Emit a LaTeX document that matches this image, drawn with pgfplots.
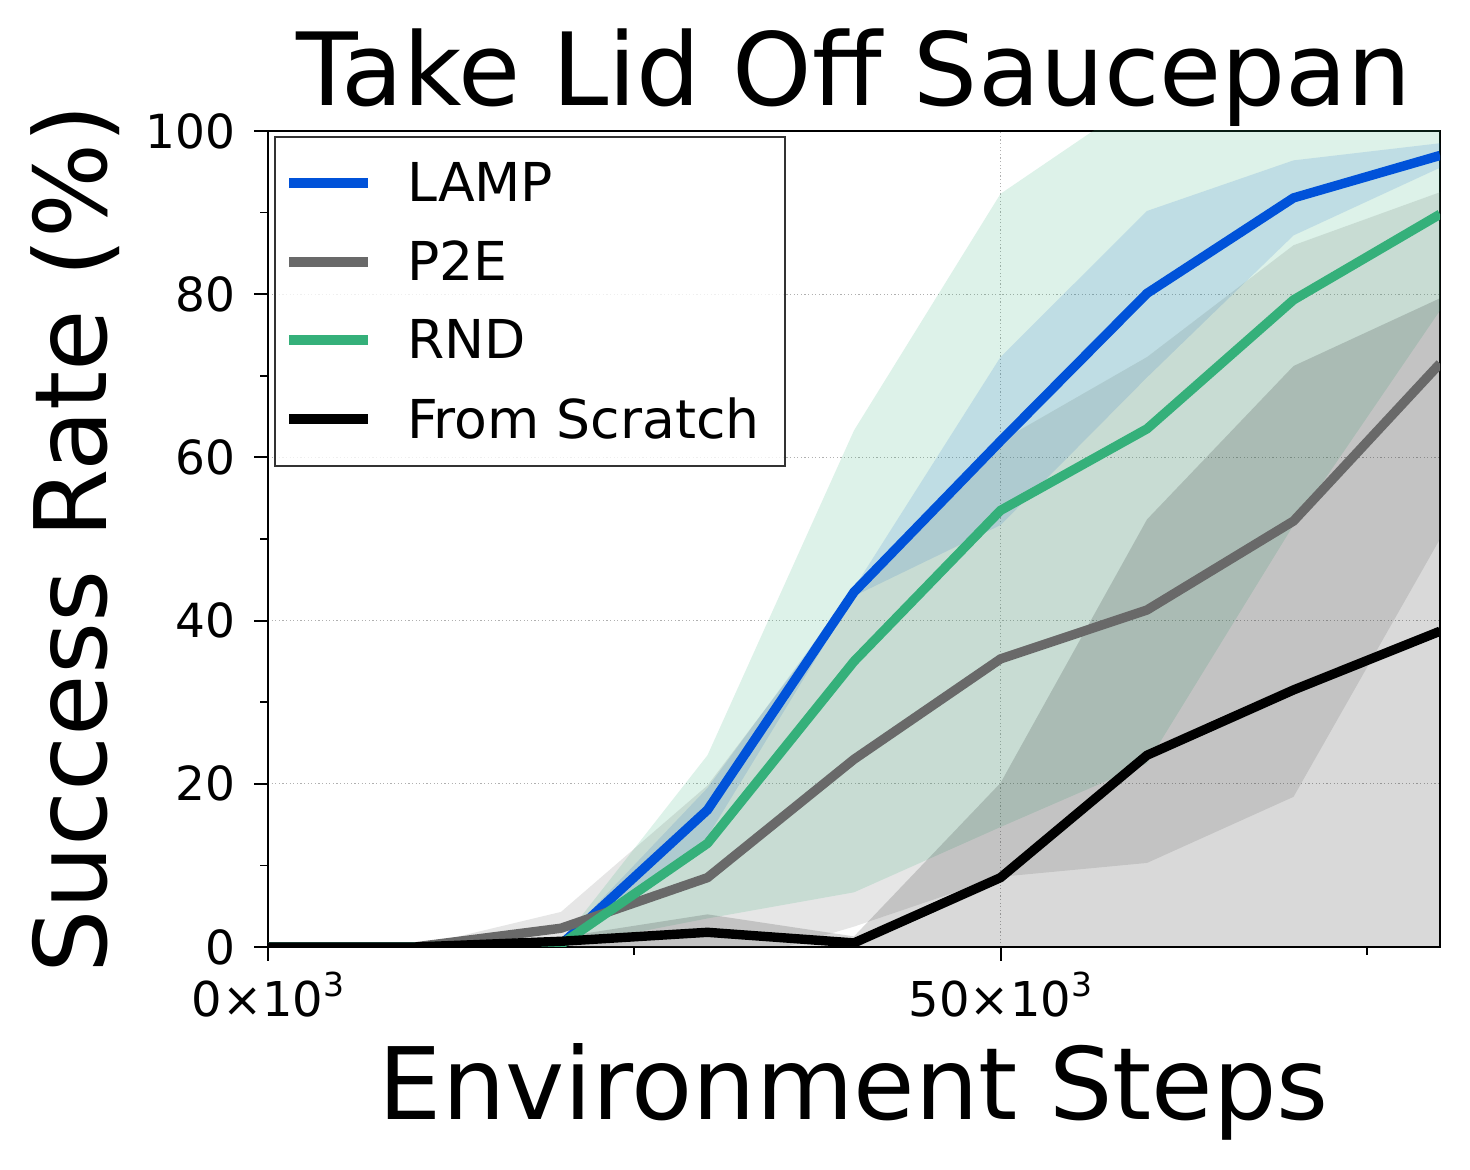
\documentclass[border=0pt]{standalone}
\usepackage{fontspec}
\setmainfont{DejaVu Sans}
\usepackage{pgfplots}
\usepackage{pgfplotstable}
\pgfplotsset{compat=1.18}
\usepgfplotslibrary{fillbetween}
\definecolor{lampc}{RGB}{0,82,217}
\definecolor{p2ec}{RGB}{105,105,105}
\definecolor{rndc}{RGB}{53,176,122}
\definecolor{gridc}{RGB}{176,176,176}
\newcommand\supr[1]{\raisebox{10pt}{\fontsize{16.5}{16.5}\selectfont #1}}
\newcommand\ls{\rule[-5pt]{0pt}{25pt}}

\pgfplotstableread{
x m lo hi
0 0 0 0
10 0 0 0
20 0.3 0 0.6
30 16.8 13.5 19.5
40 43.5 43 44
50 62 51.7 72.3
60 80.1 69.8 90.2
70 91.8 87.2 96.4
80 97 95.5 98.5
}\lamp
\pgfplotstableread{
x m lo hi
0 0 0 0
10 0 0 0
20 2.3 0.3 4.3
30 8.5 -2.8 19.8
40 23 2.5 43.5
50 35.3 8.6 62
60 41.3 10.3 72.3
70 52.2 18.4 86
80 71.5 50 92.5
}\ptwoe
\pgfplotstableread{
x m lo hi
0 0 0 0
10 0 0 0
20 0.3 0 0.6
30 12.7 3.5 23.5
40 35 6.7 63.3
50 53.5 14.7 92.3
60 63.5 22.5 104.5
70 79.3 51.7 107
80 89.8 78 101.6
}\rnd
\pgfplotstableread{
x m lo hi
0 0 0 0
10 0 0 0
20 0.7 0.2 1.2
30 1.8 -0.4 4
40 0.5 -0.3 1.3
50 8.5 -3.1 20.1
60 23.5 -5.4 52.4
70 31.5 -8.2 71.2
80 38.7 -2 79.5
}\scratch

\begin{document}
\begin{tikzpicture}
\begin{axis}[
  set layers=standard,
  clip mode=individual,
  width=586pt, height=408pt, scale only axis,
  xmin=0, xmax=80, ymin=0, ymax=100,
  axis line style={line width=1pt, black},
  xtick={0,50}, xticklabels={{0×10\supr{3}},{50×10\supr{3}}},
  minor xtick={25,75},
  ytick={0,20,40,60,80,100},
  minor ytick={10,30,50,70,90},
  tick align=outside, tick pos=left,
  major tick length=7pt, minor tick length=4pt,
  every tick/.style={black, line width=1pt},
  minor tick style={line width=0.8pt},
  grid=major,
  major grid style={gridc, line width=0.5pt, dash pattern=on 0.6pt off 1.2pt},
  /pgf/number format/assume math mode=true,
  yticklabel style={font=\fontsize{23.5}{28}\selectfont, anchor=east, inner sep=0pt, xshift=-9pt},
  xticklabel style={font=\fontsize{24}{28}\selectfont, anchor=north, inner sep=0pt, yshift=-5.5pt},
  legend style={at={(0,1)}, anchor=north west, xshift=3pt, yshift=-2.5pt,
    draw=black!80, line width=1pt, fill=white, fill opacity=0.8, text opacity=1,
    font=\fontsize{26.8}{32}\selectfont, inner xsep=4.5pt, inner ysep=12.5pt,
    row sep=17.75pt, column sep=17pt, nodes={inner sep=0pt}, cells={anchor=west}},
  legend image code/.code={\draw[#1, line cap=butt, line width=5pt] (0pt,0pt) -- (39.5pt,0pt);},
]
\addlegendimage{lampc}
\addlegendentry{\ls LAMP}
\addlegendimage{p2ec}
\addlegendentry{\ls P2E}
\addlegendimage{rndc}
\addlegendentry{\ls RND}
\addlegendimage{black}
\addlegendentry{\ls From Scratch\hspace*{8pt}}

% band boundaries
\addplot[draw=none, forget plot, name path=lu] table[x=x, y=hi]{\lamp};
\addplot[draw=none, forget plot, name path=ll] table[x=x, y=lo]{\lamp};
\addplot[draw=none, forget plot, name path=pu] table[x=x, y=hi]{\ptwoe};
\addplot[draw=none, forget plot, name path=pl] table[x=x, y=lo]{\ptwoe};
\addplot[draw=none, forget plot, name path=ru] table[x=x, y=hi]{\rnd};
\addplot[draw=none, forget plot, name path=rl] table[x=x, y=lo]{\rnd};
\addplot[draw=none, forget plot, name path=su] table[x=x, y=hi]{\scratch};
\addplot[draw=none, forget plot, name path=sl] table[x=x, y=lo]{\scratch};

\addplot[fill=lampc, fill opacity=0.14, draw=none, forget plot, on layer=axis background] fill between[of=lu and ll];
\addplot[fill=p2ec, fill opacity=0.17, draw=none, forget plot, on layer=axis background] fill between[of=pu and pl];
\addplot[fill=rndc, fill opacity=0.17, draw=none, forget plot, on layer=axis background] fill between[of=ru and rl];
\addplot[fill=black, fill opacity=0.15, draw=none, forget plot, on layer=axis background] fill between[of=su and sl];

% mean lines
\addplot[lampc, line width=4.7pt, line join=round, forget plot] table[x=x, y=m]{\lamp};
\addplot[p2ec, line width=4.7pt, line join=round, forget plot] table[x=x, y=m]{\ptwoe};
\addplot[rndc, line width=4.7pt, line join=round, forget plot] table[x=x, y=m]{\rnd};
\addplot[black, line width=4.7pt, line join=round, forget plot] table[x=x, y=m]{\scratch};

\coordinate (bl) at (rel axis cs:0,0);
\coordinate (tr) at (rel axis cs:1,1);
\coordinate (tc) at (rel axis cs:0.5,1);
\coordinate (bc) at (rel axis cs:0.5,0);
\coordinate (lc) at (rel axis cs:0,0.5);
\end{axis}
\path (tc) ++(0pt,12.65pt) node[anchor=base, font=\fontsize{50.5}{60}\selectfont] {Take Lid Off Saucepan};
\path (bc) ++(0pt,-86pt) node[anchor=base, font=\fontsize{50}{60}\selectfont] {Environment Steps};
\path (lc) ++(-80.5pt,0pt) node[anchor=base, rotate=90, font=\fontsize{50}{60}\selectfont] {Success Rate (\%)};
\pgfresetboundingbox
\path[use as bounding box] ([shift={(-134pt,-111.5pt)}]bl) rectangle ([shift={(15pt,65.5pt)}]tr);
\end{tikzpicture}
\end{document}
